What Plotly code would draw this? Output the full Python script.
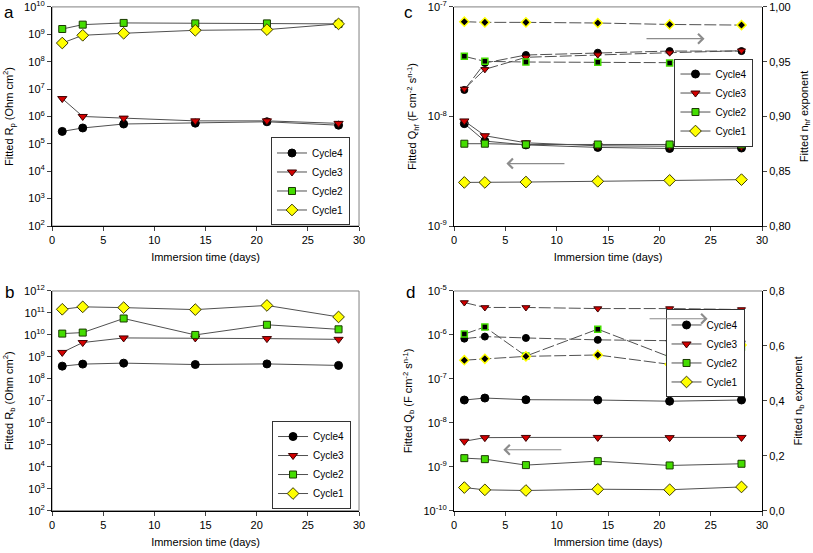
import plotly.graph_objects as go

# ---------------- data ----------------
days = [1, 3, 7, 14, 21, 28]
cycle_names = ["Cycle4", "Cycle3", "Cycle2", "Cycle1"]

# panel a : Rp (Ohm cm2)
rp_cycle4 = [2.85e5, 3.8e5, 5.3e5, 5.7e5, 6.4e5, 4.8e5]
rp_cycle3 = [4.5e6, 1.0e6, 8.7e5, 6.9e5, 6.9e5, 5.6e5]
rp_cycle2 = [1.56e9, 2.25e9, 2.6e9, 2.5e9, 2.5e9, 2.4e9]
rp_cycle1 = [4.8e8, 9.2e8, 1.09e9, 1.4e9, 1.48e9, 2.4e9]

# panel b : Rb (Ohm cm2)
rb_cycle4 = [3.8e8, 4.7e8, 5.2e8, 4.5e8, 4.8e8, 4.1e8]
rb_cycle3 = [1.6e9, 4.5e9, 7.3e9, 7.3e9, 6.8e9, 6.3e9]
rb_cycle2 = [1.15e10, 1.28e10, 5.6e10, 1.0e10, 2.9e10, 1.8e10]
rb_cycle1 = [1.47e11, 1.9e11, 1.75e11, 1.42e11, 2.2e11, 6.6e10]

# panel c : Qhf (F cm-2 s^n-1) and nhf
qhf_cycle4 = [8.6e-9, 5.96e-9, 5.5e-9, 5.22e-9, 5.1e-9, 5.15e-9]
qhf_cycle3 = [9.1e-9, 6.67e-9, 5.75e-9, 5.4e-9, 5.35e-9, 5.3e-9]
qhf_cycle2 = [5.64e-9, 5.64e-9, 5.55e-9, 5.55e-9, 5.55e-9, 5.55e-9]
qhf_cycle1 = [2.5e-9, 2.5e-9, 2.52e-9, 2.56e-9, 2.61e-9, 2.65e-9]
nhf_cycle4 = [0.9242, 0.9488, 0.9561, 0.9582, 0.9597, 0.9597]
nhf_cycle3 = [0.9251, 0.943, 0.954, 0.9564, 0.9582, 0.960]
nhf_cycle2 = [0.9549, 0.9503, 0.9497, 0.9494, 0.9488, 0.9488]
nhf_cycle1 = [0.9865, 0.9859, 0.9859, 0.9853, 0.984, 0.9834]

# panel d : Qb (F cm-2 s^n-1) and nb
qb_cycle4 = [3.3e-8, 3.66e-8, 3.36e-8, 3.3e-8, 3.1e-8, 3.3e-8]
qb_cycle3 = [3.8e-9, 4.6e-9, 4.65e-9, 4.65e-9, 4.6e-9, 4.65e-9]
qb_cycle2 = [1.57e-9, 1.49e-9, 1.09e-9, 1.34e-9, 1.07e-9, 1.17e-9]
qb_cycle1 = [3.36e-10, 2.98e-10, 2.88e-10, 3.08e-10, 3.0e-10, 3.47e-10]
nb_cycle4 = [0.6265, 0.634, 0.629, 0.622, 0.619, 0.616]
nb_cycle3 = [0.758, 0.740, 0.740, 0.736, 0.736, 0.7325]
nb_cycle2 = [0.643, 0.669, 0.563, 0.661, 0.560, 0.596]
nb_cycle1 = [0.548, 0.553, 0.562, 0.567, 0.533, 0.603]

# tick labels
x_ticks = [0, 5, 10, 15, 20, 25, 30]
ya_exp = list(range(2, 11))
yb_exp = list(range(2, 13))
yc_exp = [-9, -8, -7]
yd_exp = list(range(-10, -4))
yc_right = [0.80, 0.85, 0.90, 0.95, 1.00]
yd_right = [0.0, 0.2, 0.4, 0.6, 0.8]

# ---------------- styles ----------------
FONT = "Liberation Sans, Arial, sans-serif"
LINE_COL = "#505050"
styles = {
    "Cycle4": dict(symbol="circle", size=8, color="#000000", line=dict(color="#000000", width=1)),
    "Cycle3": dict(symbol="triangle-down", size=8, color="#d40000", line=dict(color="#3a0000", width=1)),
    "Cycle2": dict(symbol="square", size=7, color="#44dd00", line=dict(color="#1a3a00", width=1)),
    "Cycle1": dict(symbol="diamond", size=9, color="#ffff00", line=dict(color="#3a3a00", width=1)),
}
n_styles = {
    "Cycle4": dict(symbol="circle", size=7, color="#000000", line=dict(color="#000000", width=1)),
    "Cycle3": dict(symbol="triangle-down", size=7, color="#d40000", line=dict(color="#3a0000", width=1)),
    "Cycle2": dict(symbol="square", size=6, color="#000000", line=dict(color="#44dd00", width=1.5)),
    "Cycle1": dict(symbol="diamond", size=7, color="#000000", line=dict(color="#ffff00", width=1.5)),
}

fig = go.Figure()


def add_solid(name, y, xa, ya, legend):
    fig.add_trace(go.Scatter(
        x=days, y=y, name=name, mode="lines+markers", xaxis=xa, yaxis=ya,
        line=dict(color=LINE_COL, width=1), marker=styles[name],
        legend=legend, showlegend=True))


def add_dashed(name, y, xa, ya):
    fig.add_trace(go.Scatter(
        x=days, y=y, name=name, mode="lines+markers", xaxis=xa, yaxis=ya,
        line=dict(color=LINE_COL, width=1, dash="12px,3px"), marker=n_styles[name],
        showlegend=False))


panel_a = [rp_cycle4, rp_cycle3, rp_cycle2, rp_cycle1]
panel_b = [rb_cycle4, rb_cycle3, rb_cycle2, rb_cycle1]
panel_c_q = [qhf_cycle4, qhf_cycle3, qhf_cycle2, qhf_cycle1]
panel_c_n = [nhf_cycle4, nhf_cycle3, nhf_cycle2, nhf_cycle1]
panel_d_q = [qb_cycle4, qb_cycle3, qb_cycle2, qb_cycle1]
panel_d_n = [nb_cycle4, nb_cycle3, nb_cycle2, nb_cycle1]

for nm, yv in zip(cycle_names, panel_c_n):
    add_dashed(nm, yv, "x3", "y4")
for nm, yv in zip(cycle_names, panel_d_n):
    add_dashed(nm, yv, "x4", "y6")
for nm, yv in zip(cycle_names, panel_a):
    add_solid(nm, yv, "x", "y", "legend")
for nm, yv in zip(cycle_names, panel_b):
    add_solid(nm, yv, "x2", "y2", "legend2")
for nm, yv in zip(cycle_names, panel_c_q):
    add_solid(nm, yv, "x3", "y3", "legend3")
for nm, yv in zip(cycle_names, panel_d_q):
    add_solid(nm, yv, "x4", "y5", "legend4")


def pow_text(exps):
    return ["10<sup>%d</sup>" % e for e in exps]


tickfont = dict(family=FONT, size=11, color="black")
titlefont = dict(family=FONT, size=11, color="black")

common_x = dict(range=[0, 30], tickvals=x_ticks, ticks="outside", ticklen=4,
                showline=True, linecolor="black", linewidth=1, showgrid=False,
                zeroline=False, tickfont=tickfont, automargin=False,
                ticklabeloverflow="allow",
                title=dict(text="Immersion time (days)", font=titlefont, standoff=8))
common_y = dict(type="log", ticks="outside", ticklen=4, showline=True,
                linecolor="black", linewidth=1, showgrid=False, zeroline=False,
                tickfont=tickfont, automargin=False, ticklabeloverflow="allow")
right_y = dict(ticks="outside", ticklen=4, showline=True, linecolor="black",
               showgrid=False, zeroline=False, tickfont=tickfont, automargin=False,
               ticklabeloverflow="allow")

AX = [0.064, 0.4416]
CX = [0.5585, 0.9373]
TOP = [0.5913, 0.9875]
BOT = [0.0765, 0.4738]

fig.update_layout(
    width=813, height=553, margin=dict(l=0, r=0, t=0, b=0, autoexpand=False),
    paper_bgcolor="white", plot_bgcolor="white", separators=", ",
    font=dict(family=FONT, size=11, color="black"),
    xaxis=dict(common_x, domain=AX, anchor="y"),
    yaxis=dict(common_y, domain=TOP, anchor="x", range=[2, 10],
               tickvals=[10 ** e for e in ya_exp], ticktext=pow_text(ya_exp),
               title=dict(text="Fitted R<sub>p</sub> (Ohm cm<sup>2</sup>)", font=titlefont, standoff=8)),
    xaxis2=dict(common_x, domain=AX, anchor="y2"),
    yaxis2=dict(common_y, domain=BOT, anchor="x2", range=[2, 12],
                tickvals=[10 ** e for e in yb_exp], ticktext=pow_text(yb_exp),
                title=dict(text="Fitted R<sub>b</sub> (Ohm cm<sup>2</sup>)", font=titlefont, standoff=8)),
    xaxis3=dict(common_x, domain=CX, anchor="y3"),
    yaxis3=dict(common_y, domain=TOP, anchor="x3", range=[-9, -7],
                tickvals=[10.0 ** e for e in yc_exp], ticktext=pow_text(yc_exp),
                title=dict(text="Fitted Q<sub>hf</sub> (F cm<sup>-2</sup> s<sup>n-1</sup>)", font=titlefont, standoff=8)),
    yaxis4=dict(right_y, domain=TOP, anchor="x3", overlaying="y3", side="right", range=[0.8, 1.0],
                tickvals=yc_right, tickformat=".2f",
                title=dict(text="Fitted n<sub>hf</sub> exponent", font=titlefont, standoff=10)),
    xaxis4=dict(common_x, domain=CX, anchor="y5"),
    yaxis5=dict(common_y, domain=BOT, anchor="x4", range=[-10, -5],
                tickvals=[10.0 ** e for e in yd_exp], ticktext=pow_text(yd_exp),
                title=dict(text="Fitted Q<sub>b</sub> (F cm<sup>-2</sup> s<sup>n-1</sup>)", font=titlefont, standoff=8)),
    yaxis6=dict(right_y, domain=BOT, anchor="x4", overlaying="y5", side="right", range=[0.0, 0.8],
                tickvals=yd_right, tickformat=".1f",
                title=dict(text="Fitted n<sub>b</sub> exponent", font=titlefont, standoff=10)),
)

leg_common = dict(bgcolor="white", bordercolor="#333333", borderwidth=1,
                  font=dict(family=FONT, size=10, color="black"),
                  xanchor="center", yanchor="middle", tracegroupgap=0, itemwidth=30,
                  traceorder="normal")
fig.update_layout(
    legend=dict(leg_common, x=0.3819, y=0.6718),
    legend2=dict(leg_common, x=0.3832, y=0.1591),
    legend3=dict(leg_common, x=0.8782, y=0.8146),
    legend4=dict(leg_common, x=0.8672, y=0.3608),
)

# gray frame (top / right) for the panels
for xa, ya in [("x", "y"), ("x2", "y2")]:
    fig.add_shape(type="rect", xref=xa + " domain", yref=ya + " domain",
                  x0=0, x1=1, y0=0, y1=1, line=dict(color="#808080", width=1), layer="below")
for xa, ya in [("x3", "y3"), ("x4", "y5")]:
    fig.add_shape(type="line", xref=xa + " domain", yref=ya + " domain",
                  x0=0, x1=1, y0=1, y1=1, line=dict(color="#808080", width=1))

# direction arrows
ARROW = dict(showarrow=True, arrowhead=4, arrowsize=1.6, arrowwidth=1.2,
             arrowcolor="#8c8c8c", text="")
fig.add_annotation(ARROW, x=24.4, y=0.971, ax=18.6, ay=0.971,
                   xref="x3", yref="y4", axref="x3", ayref="y4")
fig.add_annotation(ARROW, x=5.1, y=0.857, ax=10.9, ay=0.857,
                   xref="x3", yref="y4", axref="x3", ayref="y4")
fig.add_annotation(ARROW, x=24.7, y=0.699, ax=18.9, ay=0.699,
                   xref="x4", yref="y6", axref="x4", ayref="y6")
fig.add_annotation(ARROW, x=4.8, y=0.222, ax=10.6, ay=0.222,
                   xref="x4", yref="y6", axref="x4", ayref="y6")

# panel letters
for letter, px, py in [("a", 0.002, 0.999), ("b", 0.004, 0.492), ("c", 0.495, 0.999), ("d", 0.497, 0.492)]:
    fig.add_annotation(text=letter, x=px, y=py, xref="paper", yref="paper",
                       xanchor="left", yanchor="top", showarrow=False,
                       font=dict(family=FONT, size=17, color="black"))

fig.write_html("out.html", config={"displayModeBar": False},
               post_script="document.body.style.margin='0';")
